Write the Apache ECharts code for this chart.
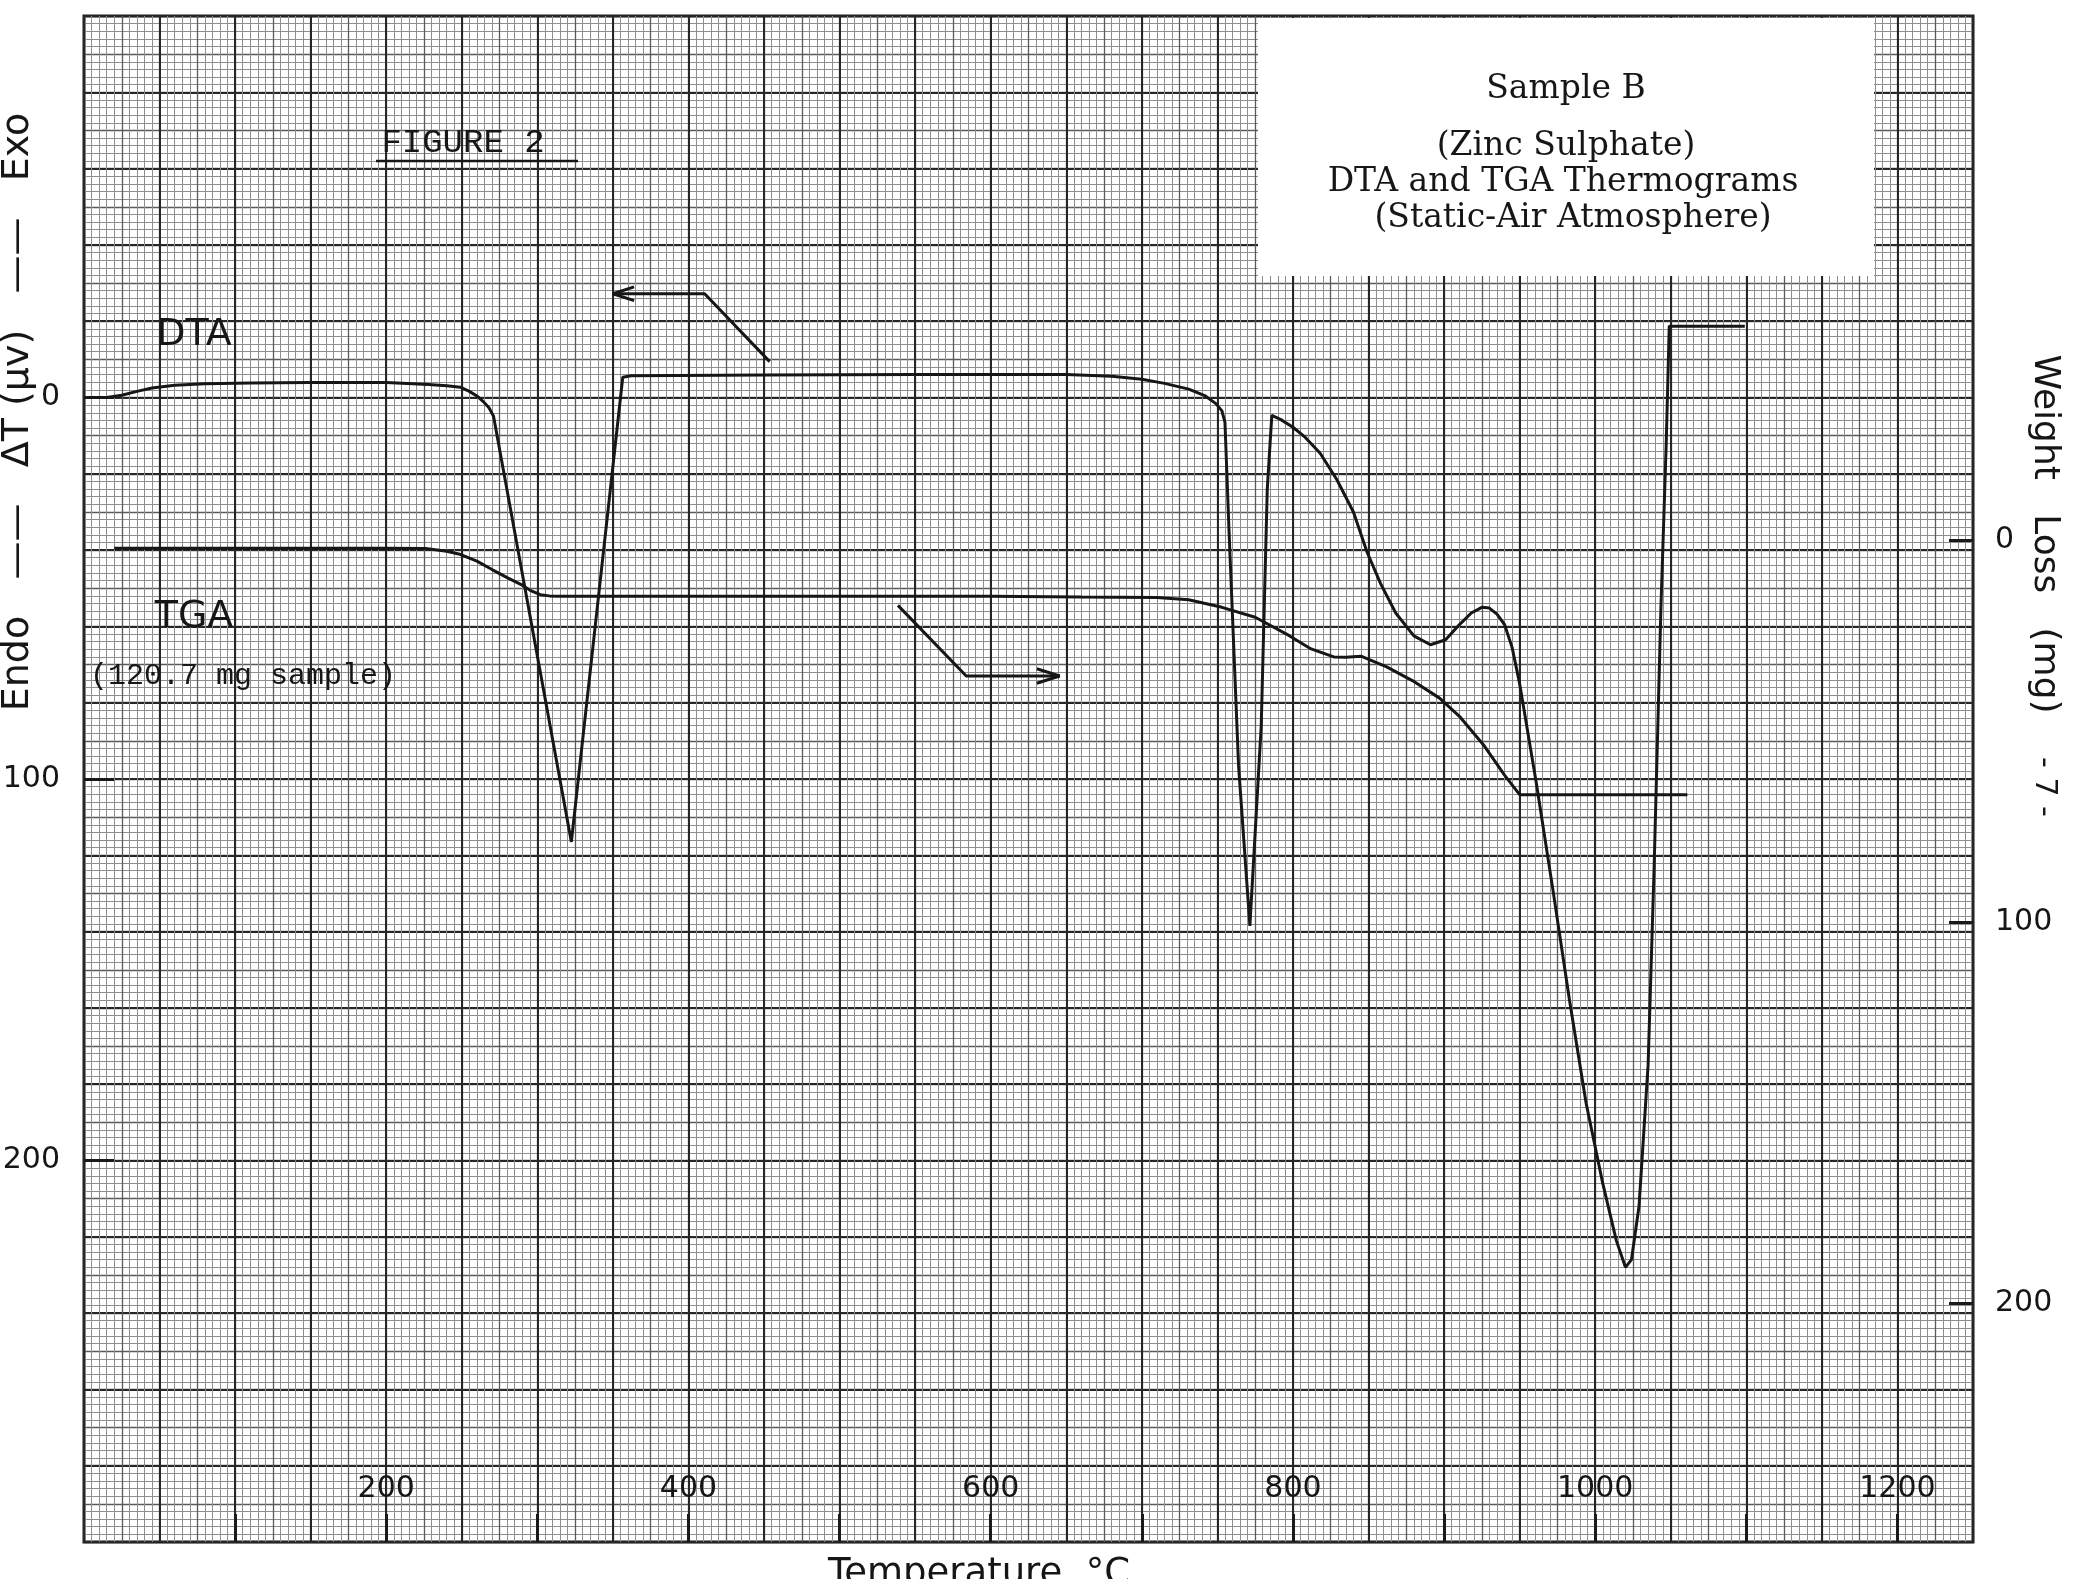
<!DOCTYPE html>
<html><head><meta charset="utf-8">
<script src="https://cdn.jsdelivr.net/npm/echarts@6/dist/echarts.min.js"></script>
<style>html,body{margin:0;padding:0;background:#fff;}#chart{width:2075px;height:1579px;}</style>
</head><body><div id="chart"></div>
<script>
// ---- axis ticks / labels ----
const tempTicks = [100,200,300,400,500,600,700,800,900,1000,1100,1200];
const tempTickLabels = [200,400,600,800,1000,1200];
const deltaTLabels = [0,100,200];
const weightLabels = [0,100,200];

// ---- DTA curve (temperature °C, ΔT µv; positive = endo, drawn downward) ----
const dtaTemp = [3,15,25,35,45,60,80,110,150,200,228,240,249,255,260,264,268,271,
  322.5,356.5,362,450,550,650,680,700,715,731,742,749,753,755,757.6,764,771.5,779,783,786,
  792,800,808,818,829,840,849,858,868,880,891,901,909,918,925,930,935,940,945,950,
  961,972,983,994,1005,1014,1020,1024,1029,1035,1039,1043.5,1047,1049,1099];
const dtaDeltaT = [0,0,-0.6,-1.6,-2.5,-3.2,-3.6,-3.8,-3.9,-3.9,-3.4,-3.1,-2.7,-1.6,-0.4,1.0,2.7,4.9,
  116.5,-5.3,-5.7,-5.9,-6.0,-6.0,-5.6,-4.8,-3.7,-2.2,-0.4,1.6,3.5,6.5,34,96.5,138.5,86,24,4.7,
  5.8,7.8,10.4,14.6,21.5,30,40.5,48.8,56.5,62.5,64.8,63.5,60,56.5,55,55.2,56.8,59.5,65.5,75,
  101,129,158,185,206,221,228,226,212,175,123,55,12,-18.7,-18.7];

// ---- TGA curve (temperature °C, weight loss mg; drawn downward) ----
const tgaTemp = [20,100,200,226,240,248,260,270,280,290,296,302,308,314,400,500,600,660,710,731,
  753,775,797,812,827,835,845,862,879,897,910,926,940,950,1061];
const tgaWeightLoss = [2,2,2,2.1,2.8,3.5,5.4,7.6,9.7,11.7,13.2,14.2,14.5,14.6,14.6,14.6,14.6,14.8,14.9,15.5,
  17.5,20.1,24.8,28.4,30.5,30.6,30.3,33.1,36.7,41.3,46,53.5,61.5,66.6,66.6];

// ---- arrows pointing to the axis of each curve ----
const dtaArrowTemp = [350,410.7,453.7];
const dtaArrowDeltaT = [-27.2,-27.2,-9.4];
const dtaArrowHeadTemp = [364,350,364];
const dtaArrowHeadDeltaT = [-29,-27.2,-25.4];
const tgaArrowTemp = [538.6,583.8,645.6];
const tgaArrowWeight = [17,35.5,35.5];
const tgaArrowHeadTemp = [630.5,645.6,630.5];
const tgaArrowHeadWeight = [33.6,35.5,37.4];

const zip = (a,b) => a.map((v,i) => [v,b[i]]);

const G = {left:84, top:16, width:1889, height:1526};
const INK = '#161616';
const SANS = 'DejaVu Sans';
const plain = v => String(v);

const chart = echarts.init(document.getElementById('chart'), null, {renderer:'canvas'});
const hidden = {axisLine:{show:false, onZero:false}, axisTick:{show:false}, axisLabel:{show:false}};

const option = {
  backgroundColor:'#ffffff',
  animation:false,
  grid:[
    Object.assign({show:false, outerBoundsMode:'none'}, G),
    Object.assign({show:false, outerBoundsMode:'none'}, G),
    Object.assign({show:true, borderColor:'#1a1a1a', borderWidth:3, backgroundColor:'transparent', outerBoundsMode:'none'}, G)
  ],
  xAxis:[
    Object.assign({gridIndex:0, type:'value', min:0, max:1250, interval:25,
      splitLine:{show:true, lineStyle:{color:'#5a5a5a', width:1.3}},
      minorTick:{show:false, splitNumber:5},
      minorSplitLine:{show:true, lineStyle:{color:'#8e8e8e', width:1}}}, hidden),
    Object.assign({gridIndex:1, type:'value', min:0, max:1250, interval:50,
      splitLine:{show:true, lineStyle:{color:'#262626', width:2}}}, hidden),
    {gridIndex:2, type:'value', min:0, max:1250, position:'bottom',
      axisLine:{show:false, onZero:false}, splitLine:{show:false},
      axisTick:{show:true, inside:true, length:28, customValues:tempTicks, lineStyle:{color:'#1a1a1a', width:3}},
      axisLabel:{show:true, inside:true, customValues:tempTickLabels, margin:38, formatter:plain,
        fontFamily:SANS, fontSize:30, color:INK}}
  ],
  yAxis:[
    Object.assign({gridIndex:0, type:'value', min:-100, max:300, interval:10, inverse:true,
      splitLine:{show:true, lineStyle:{color:'#5a5a5a', width:1.3}},
      minorTick:{show:false, splitNumber:5},
      minorSplitLine:{show:true, lineStyle:{color:'#8e8e8e', width:1}}}, hidden),
    Object.assign({gridIndex:1, type:'value', min:-100, max:300, interval:20, inverse:true,
      splitLine:{show:true, lineStyle:{color:'#262626', width:2}}}, hidden),
    {gridIndex:2, type:'value', min:-100, max:300, inverse:true, position:'left',
      axisLine:{show:false, onZero:false}, splitLine:{show:false},
      axisTick:{show:true, inside:true, length:30, customValues:deltaTLabels, lineStyle:{color:'#1a1a1a', width:3}},
      axisLabel:{show:true, customValues:deltaTLabels, margin:24, formatter:plain, fontFamily:SANS, fontSize:30, color:INK}},
    {gridIndex:2, type:'value', min:-137.5, max:262.5, inverse:true, position:'right',
      axisLine:{show:false, onZero:false}, splitLine:{show:false},
      axisTick:{show:true, inside:true, length:24, customValues:weightLabels, lineStyle:{color:'#1a1a1a', width:3}},
      axisLabel:{show:true, customValues:weightLabels, margin:22, formatter:plain, fontFamily:SANS, fontSize:30, color:INK}}
  ],
  series:[
    {name:'DTA', type:'line', xAxisIndex:2, yAxisIndex:2, data:zip(dtaTemp,dtaDeltaT),
      showSymbol:false, symbol:'none', lineStyle:{color:INK, width:3}, z:5},
    {name:'TGA', type:'line', xAxisIndex:2, yAxisIndex:3, data:zip(tgaTemp,tgaWeightLoss),
      showSymbol:false, symbol:'none', lineStyle:{color:INK, width:3}, z:5},
    {name:'DTA arrow', type:'line', xAxisIndex:2, yAxisIndex:2, data:zip(dtaArrowTemp,dtaArrowDeltaT),
      symbol:'none', lineStyle:{color:INK, width:3}, z:5},
    {name:'DTA arrow head', type:'line', xAxisIndex:2, yAxisIndex:2, data:zip(dtaArrowHeadTemp,dtaArrowHeadDeltaT),
      symbol:'none', lineStyle:{color:INK, width:3}, z:5},
    {name:'TGA arrow', type:'line', xAxisIndex:2, yAxisIndex:3, data:zip(tgaArrowTemp,tgaArrowWeight),
      symbol:'none', lineStyle:{color:INK, width:3}, z:5},
    {name:'TGA arrow head', type:'line', xAxisIndex:2, yAxisIndex:3, data:zip(tgaArrowHeadTemp,tgaArrowHeadWeight),
      symbol:'none', lineStyle:{color:INK, width:3}, z:5}
  ],
  graphic:[
    {type:'rect', z:20, shape:{x:1258, y:18, width:616, height:258}, style:{fill:'#ffffff'}},
    {type:'text', z:21, x:1566, y:89, style:{text:'Sample B', font:'33px "DejaVu Serif"', fill:INK, textAlign:'center', textVerticalAlign:'middle', align:'center', verticalAlign:'middle'}},
    {type:'text', z:21, x:1566, y:146, style:{text:'(Zinc Sulphate)', font:'33px "DejaVu Serif"', fill:INK, textAlign:'center', textVerticalAlign:'middle', align:'center', verticalAlign:'middle'}},
    {type:'text', z:21, x:1563, y:182, style:{text:'DTA and TGA Thermograms', font:'33px "DejaVu Serif"', fill:INK, textAlign:'center', textVerticalAlign:'middle', align:'center', verticalAlign:'middle'}},
    {type:'text', z:21, x:1573, y:218, style:{text:'(Static-Air Atmosphere)', font:'33px "DejaVu Serif"', fill:INK, textAlign:'center', textVerticalAlign:'middle', align:'center', verticalAlign:'middle'}},
    {type:'text', z:21, x:463, y:143, style:{text:'FIGURE 2', font:'34px "Liberation Mono"', fill:INK, textAlign:'center', textVerticalAlign:'middle', align:'center', verticalAlign:'middle'}},
    {type:'line', z:21, shape:{x1:376, y1:161, x2:578, y2:161}, style:{stroke:INK, lineWidth:2.5}},
    {type:'text', z:21, x:194, y:335, style:{text:'DTA', font:'38px "DejaVu Sans"', fill:INK, textAlign:'center', textVerticalAlign:'middle', align:'center', verticalAlign:'middle'}},
    {type:'text', z:21, x:194, y:617, style:{text:'TGA', font:'38px "DejaVu Sans"', fill:INK, textAlign:'center', textVerticalAlign:'middle', align:'center', verticalAlign:'middle'}},
    {type:'text', z:21, x:90, y:676, style:{text:'(120.7 mg sample)', font:'30px "Liberation Mono"', fill:INK, textAlign:'left', textVerticalAlign:'middle', align:'left', verticalAlign:'middle'}},
    {type:'text', z:21, x:18, y:412, rotation:Math.PI/2, style:{text:'Endo   ——   ΔT (µv)   ——   Exo', font:'38px "DejaVu Sans"', fill:INK, textAlign:'center', textVerticalAlign:'middle', align:'center', verticalAlign:'middle'}},
    {type:'text', z:21, x:2044, y:534, rotation:-Math.PI/2, style:{text:'Weight   Loss   (mg)', font:'36px "DejaVu Sans"', fill:INK, textAlign:'center', textVerticalAlign:'middle', align:'center', verticalAlign:'middle'}},
    {type:'text', z:21, x:2044, y:787, rotation:-Math.PI/2, style:{text:'- 7 -', font:'30px "DejaVu Sans"', fill:INK, textAlign:'center', textVerticalAlign:'middle', align:'center', verticalAlign:'middle'}},
    {type:'text', z:21, x:979, y:1556, style:{text:'Temperature  °C', font:'37px "DejaVu Sans"', fill:INK, textAlign:'center', textVerticalAlign:'top', align:'center', verticalAlign:'top'}}
  ]
};
chart.setOption(option);
</script></body></html>
